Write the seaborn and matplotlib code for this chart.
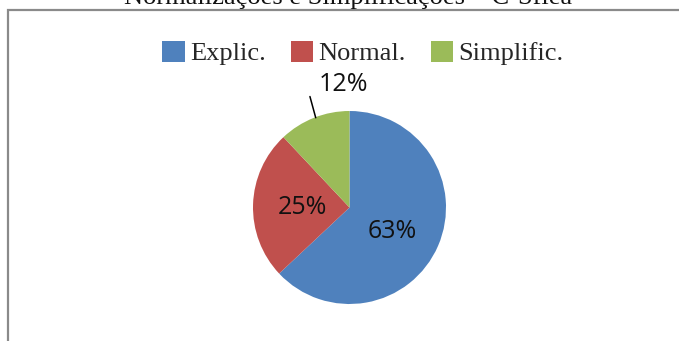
import matplotlib
matplotlib.use("Agg")
import matplotlib.pyplot as plt
from matplotlib.patches import Patch, Rectangle
import seaborn as sns

# Shares of each transformation type (percent)
categories = ["Explic.", "Normal.", "Simplific."]
shares = [63, 25, 12]
colors = ["#4F81BD", "#C0504D", "#9BBB59"]
title = "Normalizações e Simplificações – C-Sflea"

sns.set_theme(style="white")
plt.rcParams["font.family"] = ["DejaVu Sans"]

W, H = 679, 341
fig = plt.figure(figsize=(W / 100, H / 100), dpi=100)
fig.patch.set_facecolor("white")

# chart-area frame (top and left edges visible)
fig.patches.append(Rectangle((8 / W, -0.2), 1.2, 1.2 - 10 / H,
                             transform=fig.transFigure, fill=False,
                             edgecolor="#8a8a8a", linewidth=1.6))

fig.text(348 / W, 1 - 4 / H, title, ha="center", va="baseline",
         family="Liberation Serif", fontsize=19, color="#111111")

cx, cy, r = 349.5, 207.5, 96.5
ax = fig.add_axes([(cx - r) / W, (H - cy - r) / H, 2 * r / W, 2 * r / H])
wedges, texts, autotexts = ax.pie(
    shares, colors=colors, startangle=90, counterclock=False,
    autopct=lambda p: f"{p:.0f}%", pctdistance=0.5,
    textprops=dict(fontsize=18, family="Open Sans", color="#111111"),
    wedgeprops=dict(linewidth=0))
ax.set_xlim(-1, 1)
ax.set_ylim(-1, 1)
ax.set_aspect("auto")
ax.axis("off")

# small slice label sits outside with a leader line
autotexts[0].set_position((0.44, -0.25))
autotexts[1].set_position((-0.49, 0.0))
autotexts[2].set_position((-0.06, 1.27))
autotexts[2].set_clip_on(False)
ax.plot([-0.35, -0.41], [0.93, 1.15], color="black", lw=1.1, clip_on=False)

handles = [Patch(facecolor=c, edgecolor="none") for c in colors]
fig.legend(handles, categories, loc="center", bbox_to_anchor=(363 / W, 1 - 53 / H),
           ncol=3, frameon=False, handlelength=0.85, handleheight=0.85,
           handletextpad=0.2, columnspacing=0.95,
           prop=dict(family="Liberation Serif", size=19))

fig.savefig("out.png", dpi=100, facecolor="white")
